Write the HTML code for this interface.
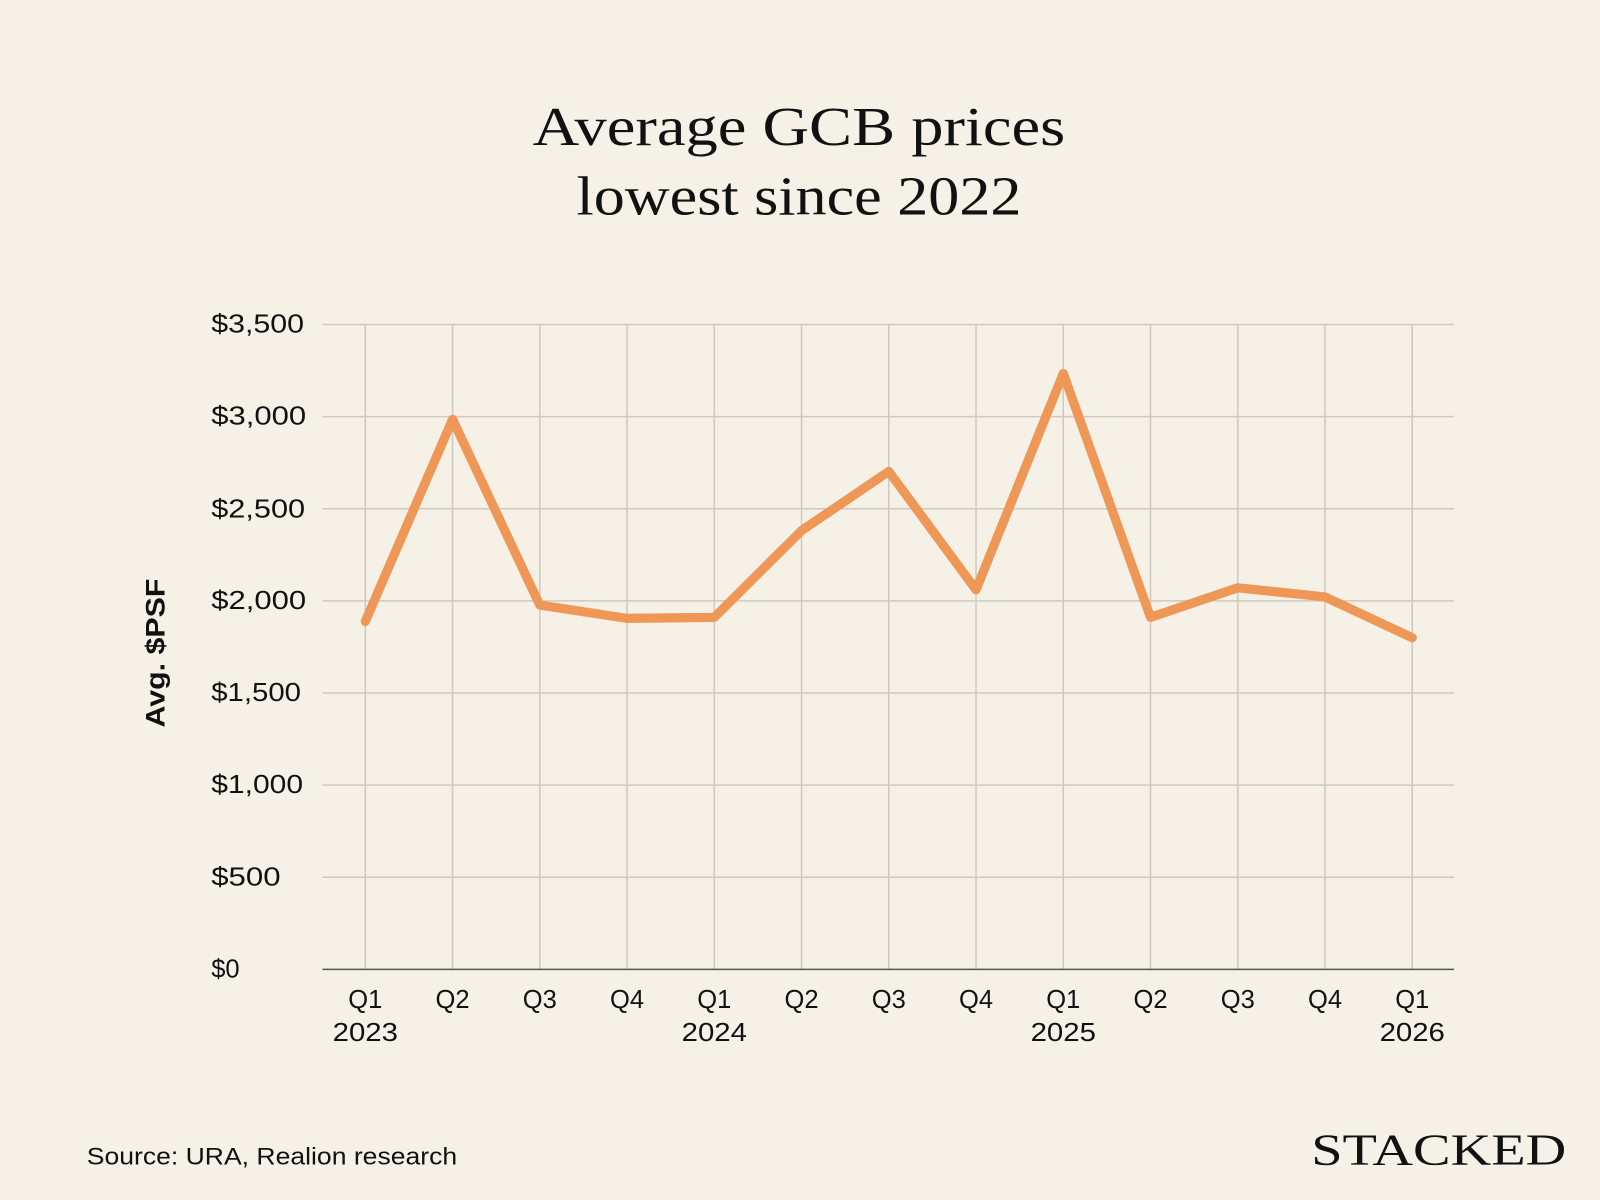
<!DOCTYPE html>
<html><head><style>html,body{margin:0;padding:0;background:#f5f1e6;}svg{display:block}</style></head>
<body>
<svg width="1600" height="1200" viewBox="0 0 1568 1176" preserveAspectRatio="none" xmlns="http://www.w3.org/2000/svg">
<rect width="1568" height="1176" fill="#f5f1e6"/>
<g font-family="Liberation Serif, serif" font-size="54" fill="#111" text-anchor="middle">
<text x="783" y="142" textLength="522" lengthAdjust="spacingAndGlyphs">Average GCB prices</text>
<text x="783" y="210" textLength="436" lengthAdjust="spacingAndGlyphs">lowest since 2022</text>
</g>
<g stroke="#cfcac0" stroke-width="1.5">
<line x1="316" y1="318" x2="1425" y2="318"/>
<line x1="316" y1="408.3" x2="1425" y2="408.3"/>
<line x1="316" y1="498.6" x2="1425" y2="498.6"/>
<line x1="316" y1="588.9" x2="1425" y2="588.9"/>
<line x1="316" y1="679.1" x2="1425" y2="679.1"/>
<line x1="316" y1="769.4" x2="1425" y2="769.4"/>
<line x1="316" y1="859.7" x2="1425" y2="859.7"/>
<line x1="358" y1="318" x2="358" y2="950"/>
<line x1="443.5" y1="318" x2="443.5" y2="950"/>
<line x1="529" y1="318" x2="529" y2="950"/>
<line x1="614.5" y1="318" x2="614.5" y2="950"/>
<line x1="700" y1="318" x2="700" y2="950"/>
<line x1="785.5" y1="318" x2="785.5" y2="950"/>
<line x1="871" y1="318" x2="871" y2="950"/>
<line x1="956.5" y1="318" x2="956.5" y2="950"/>
<line x1="1042" y1="318" x2="1042" y2="950"/>
<line x1="1127.5" y1="318" x2="1127.5" y2="950"/>
<line x1="1213" y1="318" x2="1213" y2="950"/>
<line x1="1298.5" y1="318" x2="1298.5" y2="950"/>
<line x1="1384" y1="318" x2="1384" y2="950"/>
</g>
<line x1="316" y1="950" x2="1425" y2="950" stroke="#555" stroke-width="1.5"/>
<polyline fill="none" stroke="#ef9757" stroke-width="9" stroke-linejoin="round" stroke-linecap="round"
points="358,609 443.5,411 529,593 614.5,606 700,605 785.5,520 871,462 956.5,578 1042,366 1127.5,605 1213,576 1298.5,585 1384,625"/>
<g font-family="Liberation Sans, sans-serif" font-size="25" fill="#111">
<text x="207" y="326" textLength="91" lengthAdjust="spacingAndGlyphs">$3,500</text>
<text x="207" y="416" textLength="93" lengthAdjust="spacingAndGlyphs">$3,000</text>
<text x="207" y="507" textLength="92" lengthAdjust="spacingAndGlyphs">$2,500</text>
<text x="207" y="597" textLength="93" lengthAdjust="spacingAndGlyphs">$2,000</text>
<text x="207" y="687" textLength="88" lengthAdjust="spacingAndGlyphs">$1,500</text>
<text x="207" y="777" textLength="90" lengthAdjust="spacingAndGlyphs">$1,000</text>
<text x="207" y="868" textLength="68" lengthAdjust="spacingAndGlyphs">$500</text>
<text x="207" y="958">$0</text>
<g text-anchor="middle">
<text x="358" y="988">Q1</text><text x="358" y="1020" textLength="64" lengthAdjust="spacingAndGlyphs">2023</text>
<text x="443.5" y="988">Q2</text>
<text x="529" y="988">Q3</text>
<text x="614.5" y="988">Q4</text>
<text x="700" y="988">Q1</text><text x="700" y="1020" textLength="64" lengthAdjust="spacingAndGlyphs">2024</text>
<text x="785.5" y="988">Q2</text>
<text x="871" y="988">Q3</text>
<text x="956.5" y="988">Q4</text>
<text x="1042" y="988">Q1</text><text x="1042" y="1020" textLength="64" lengthAdjust="spacingAndGlyphs">2025</text>
<text x="1127.5" y="988">Q2</text>
<text x="1213" y="988">Q3</text>
<text x="1298.5" y="988">Q4</text>
<text x="1384" y="988">Q1</text><text x="1384" y="1020" textLength="64" lengthAdjust="spacingAndGlyphs">2026</text>
</g>
<text x="85" y="1141" font-size="24" textLength="363" lengthAdjust="spacingAndGlyphs">Source: URA, Realion research</text>
<text transform="translate(161,640) rotate(-90)" text-anchor="middle" font-weight="bold" font-size="26" textLength="146" lengthAdjust="spacingAndGlyphs">Avg. $PSF</text>
</g>
<text x="1285" y="1141" font-family="Liberation Serif, serif" font-size="44" textLength="250" lengthAdjust="spacingAndGlyphs" fill="#111">STACKED</text>
</svg>
</body></html>
